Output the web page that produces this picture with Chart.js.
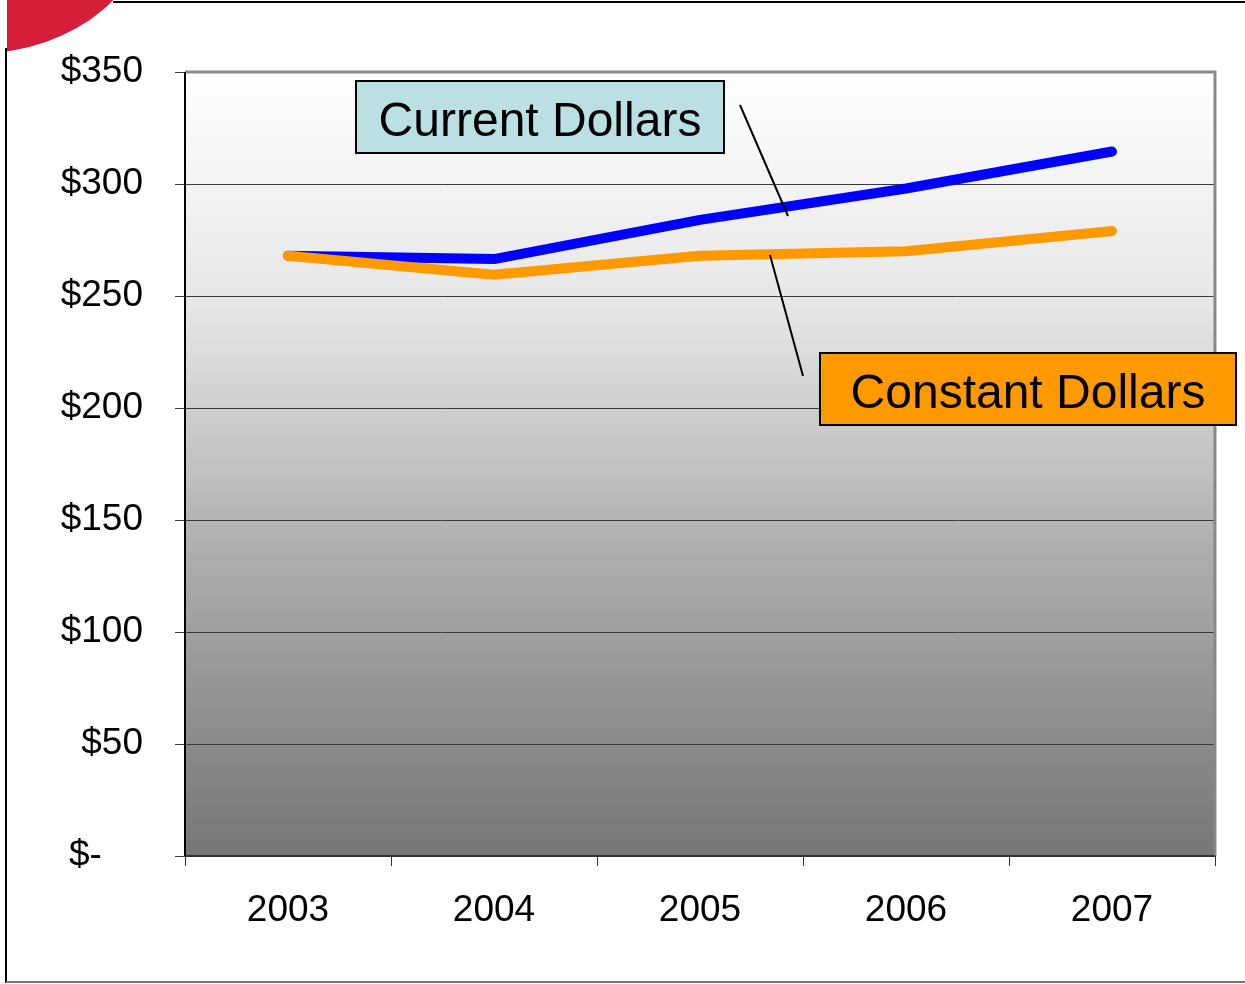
<!DOCTYPE html>
<html>
<head>
<meta charset="utf-8">
<script src="https://cdn.jsdelivr.net/npm/chart.js@4/dist/chart.umd.min.js"></script>
<style>
  html, body { margin: 0; padding: 0; background: #fff; }
  #wrap { width: 1245px; height: 984px; }
</style>
</head>
<body>
<div id="wrap"><canvas id="myChart" width="1245" height="984"></canvas></div>
<script>
// chart values
const years = ['2003', '2004', '2005', '2006', '2007'];
const currentDollars = [268, 266.5, 284, 298, 314.5];
const constantDollars = [268, 259.5, 268, 270, 279];
const yTickValues = [0, 50, 100, 150, 200, 250, 300, 350];

const FONT = "Arial, 'Liberation Sans', sans-serif";

// page frame, red corner and the plot gradient
const backdrop = {
  id: 'backdrop',
  beforeDraw(chart) {
    const ctx = chart.ctx;
    const a = chart.chartArea;
    ctx.save();
    ctx.fillStyle = '#fff';
    ctx.fillRect(0, 0, chart.width, chart.height);

    // red corner shape
    ctx.save();
    ctx.beginPath();
    ctx.rect(7, 0, 200, 200);
    ctx.clip();
    ctx.fillStyle = '#D41E3A';
    ctx.beginPath();
    ctx.ellipse(-20, -95, 174, 148, 0, 0, Math.PI * 2);
    ctx.fill();
    ctx.restore();

    // frame lines
    ctx.strokeStyle = '#000';
    ctx.lineWidth = 2;
    ctx.beginPath();
    ctx.moveTo(6, 48);
    ctx.lineTo(6, 983);
    ctx.moveTo(113, 2);
    ctx.lineTo(1245, 2);
    ctx.stroke();
    ctx.strokeStyle = '#777';
    ctx.beginPath();
    ctx.moveTo(6, 982);
    ctx.lineTo(1245, 982);
    ctx.stroke();

    // plot gradient
    const g = ctx.createLinearGradient(0, a.top, 0, a.bottom);
    g.addColorStop(0, '#ffffff');
    g.addColorStop(0.3, '#e6e6e6');
    g.addColorStop(0.6, '#b0b0b0');
    g.addColorStop(1, '#767676');
    ctx.fillStyle = g;
    ctx.fillRect(a.left, a.top, a.right - a.left, a.bottom - a.top);
    ctx.restore();
  },
  afterDraw(chart) {
    const ctx = chart.ctx;
    const a = chart.chartArea;
    ctx.save();
    // top and right plot border
    ctx.strokeStyle = '#888';
    ctx.lineWidth = 3;
    ctx.beginPath();
    ctx.moveTo(a.left, a.top);
    ctx.lineTo(a.right, a.top);
    ctx.lineTo(a.right, a.bottom);
    ctx.stroke();
    // left / bottom axis lines
    ctx.strokeStyle = '#000';
    ctx.lineWidth = 2;
    ctx.beginPath();
    ctx.moveTo(a.left, a.top);
    ctx.lineTo(a.left, a.bottom);
    ctx.stroke();
    ctx.strokeStyle = '#333';
    ctx.beginPath();
    ctx.moveTo(a.left, a.bottom);
    ctx.lineTo(a.right, a.bottom);
    ctx.stroke();
    ctx.restore();
  }
};

// labelled boxes with their leader lines
const callouts = {
  id: 'callouts',
  afterDraw(chart) {
    const ctx = chart.ctx;
    ctx.save();
    ctx.strokeStyle = '#000';
    ctx.lineWidth = 2;

    // leader lines
    ctx.beginPath();
    ctx.moveTo(740, 105);
    ctx.lineTo(788, 216);
    ctx.moveTo(770, 255);
    ctx.lineTo(803, 376);
    ctx.stroke();

    const box = (l, t, w, h, fill, text) => {
      ctx.fillStyle = fill;
      ctx.fillRect(l, t, w, h);
      ctx.lineWidth = 2;
      ctx.strokeStyle = '#000';
      ctx.strokeRect(l, t, w, h);
      ctx.fillStyle = '#000';
      ctx.font = '48px ' + FONT;
      ctx.textAlign = 'center';
      ctx.textBaseline = 'middle';
      ctx.fillText(text, l + w / 2, t + h / 2 + 6);
    };
    box(356, 81, 368, 72, '#BAE0E4', 'Current Dollars');
    box(820, 353, 416, 72, '#FF9900', 'Constant Dollars');
    ctx.restore();
  }
};

new Chart(document.getElementById('myChart').getContext('2d'), {
  type: 'line',
  data: {
    labels: years,
    datasets: [{
      label: 'Constant Dollars',
      data: constantDollars,
      borderColor: '#FF9900',
      backgroundColor: '#FF9900',
      borderWidth: 10,
      borderCapStyle: 'round',
      borderJoinStyle: 'round',
      pointRadius: 0,
      tension: 0,
      fill: false
    }, {
      label: 'Current Dollars',
      data: currentDollars,
      borderColor: '#0000FF',
      backgroundColor: '#0000FF',
      borderWidth: 10,
      borderCapStyle: 'round',
      borderJoinStyle: 'round',
      pointRadius: 0,
      tension: 0,
      fill: false
    }]
  },
  options: {
    responsive: false,
    animation: false,
    layout: { padding: { top: 72, right: 30, left: 0, bottom: 0 } },
    plugins: {
      legend: { display: false },
      tooltip: { enabled: false }
    },
    scales: {
      x: {
        offset: true,
        grid: {
          offset: true,
          drawOnChartArea: false,
          drawTicks: true,
          tickLength: 10,
          color: '#333'
        },
        border: { display: false },
        ticks: {
          color: '#000',
          font: { family: FONT, size: 37 },
          padding: 23,
          maxRotation: 0
        },
        afterFit(scale) { scale.height = 128; }
      },
      y: {
        min: 0,
        max: 350,
        afterBuildTicks(scale) { scale.ticks = yTickValues.map(v => ({ value: v })); },
        grid: {
          color: '#3a3a3a',
          lineWidth: 1,
          drawTicks: true,
          tickLength: 10
        },
        border: { display: false },
        ticks: {
          color: '#000',
          font: { family: FONT, size: 37 },
          padding: 32,
          // accounting style: zero shows as "$-" with trailing spaces
          callback: v => v === 0 ? '$-    ' : '$' + v
        },
        afterFit(scale) { scale.width = 185; }
      }
    }
  },
  plugins: [backdrop, callouts]
});
</script>
</body>
</html>
